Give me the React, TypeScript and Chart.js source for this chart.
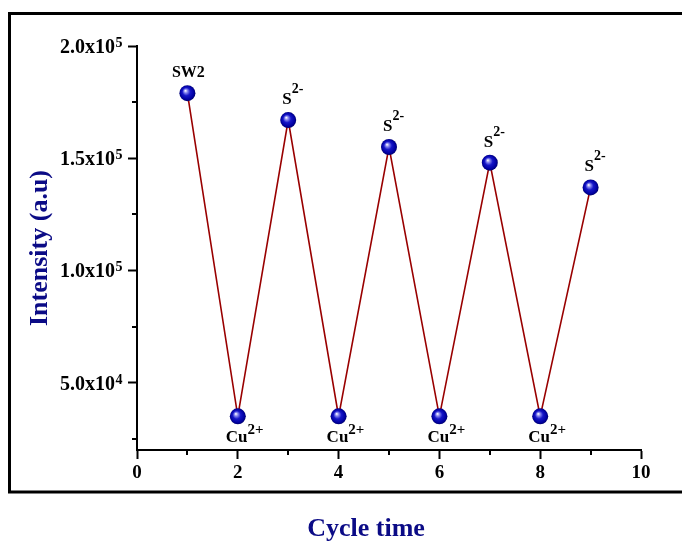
import React, { useEffect, useRef } from "react";
import { Chart, registerables } from "chart.js";

Chart.register(...registerables);

const cycles = [1, 2, 3, 4, 5, 6, 7, 8, 9];
const intensity = [179000, 35000, 167000, 35000, 155000, 35000, 148000, 35000, 137000];
const labelMain = ["SW2", "Cu", "S", "Cu", "S", "Cu", "S", "Cu", "S"];
const labelSup = ["", "2+", "2-", "2+", "2-", "2+", "2-", "2+", "2-"];
const xTickValues = [0, 2, 4, 6, 8, 10];
const xMinorTicks = [1, 3, 5, 7, 9];
const yTickValues = [50000, 100000, 150000, 200000];
const yTickBase = ["5.0x10", "1.0x10", "1.5x10", "2.0x10"];
const yTickExp = ["4", "5", "5", "5"];
const yMinorTicks = [25000, 75000, 125000, 175000];
const xTitle = "Cycle time";
const yTitle = "Intensity (a.u)";

const SERIF = "'Liberation Serif', 'Times New Roman', serif";
const NAVY = "#0b0b86";

const decorPlugin = {
  id: "decor",
  beforeDraw(chart: any) {
    const ctx = chart.ctx;
    ctx.save();
    ctx.fillStyle = "#ffffff";
    ctx.fillRect(0, 0, chart.width, chart.height);
    ctx.restore();
  },
  afterDraw(chart: any) {
    const ctx = chart.ctx;
    const xs = chart.scales.x;
    const ys = chart.scales.y;
    const area = chart.chartArea;
    ctx.save();
    // outer frame
    ctx.strokeStyle = "#000";
    ctx.lineWidth = 3;
    ctx.strokeRect(9.5, 13.5, 690, 478.5);
    // minor ticks
    ctx.lineWidth = 2;
    ctx.beginPath();
    xMinorTicks.forEach((v) => {
      const px = Math.round(xs.getPixelForValue(v));
      ctx.moveTo(px, area.bottom);
      ctx.lineTo(px, area.bottom + 5);
    });
    yMinorTicks.forEach((v) => {
      const py = Math.round(ys.getPixelForValue(v));
      ctx.moveTo(area.left, py);
      ctx.lineTo(area.left - 5, py);
    });
    ctx.stroke();
    // y tick labels with superscript exponents
    ctx.fillStyle = "#000";
    ctx.textBaseline = "alphabetic";
    ctx.textAlign = "left";
    const rightEdge = area.left - 15;
    yTickValues.forEach((v, i) => {
      const py = ys.getPixelForValue(v);
      ctx.font = `bold 14px ${SERIF}`;
      const ew = ctx.measureText(yTickExp[i]).width;
      ctx.font = `bold 20px ${SERIF}`;
      const bw = ctx.measureText(yTickBase[i]).width;
      const x0 = rightEdge - ew - bw;
      ctx.fillText(yTickBase[i], x0, py + 7);
      ctx.font = `bold 14px ${SERIF}`;
      ctx.fillText(yTickExp[i], x0 + bw + 0.5, py + 1);
    });
    // x title
    ctx.fillStyle = NAVY;
    ctx.font = `bold 26px ${SERIF}`;
    ctx.textAlign = "center";
    ctx.textBaseline = "alphabetic";
    ctx.fillText(xTitle, 366, 536);
    ctx.restore();
  },
  afterDatasetsDraw(chart: any) {
    const ctx = chart.ctx;
    const meta = chart.getDatasetMeta(0);
    ctx.save();
    ctx.fillStyle = "#000";
    ctx.textBaseline = "alphabetic";
    ctx.textAlign = "left";
    meta.data.forEach((pt: any, i: number) => {
      const px = pt.x;
      const py = pt.y;
      const main = labelMain[i];
      const sup = labelSup[i];
      if (main === "SW2") {
        ctx.font = `bold 16px ${SERIF}`;
        ctx.textAlign = "center";
        ctx.fillText(main, px + 1, py - 16);
        ctx.textAlign = "left";
      } else if (main === "S") {
        ctx.font = `bold 17px ${SERIF}`;
        const w = ctx.measureText(main).width;
        const x0 = px - 6;
        ctx.fillText(main, x0, py - 16);
        ctx.font = `bold 14px ${SERIF}`;
        ctx.fillText(sup, x0 + w, py - 27);
      } else {
        ctx.font = `bold 17px ${SERIF}`;
        const w = ctx.measureText(main).width;
        const x0 = px - 12;
        ctx.fillText(main, x0, py + 26);
        ctx.font = `bold 15px ${SERIF}`;
        ctx.fillText(sup, x0 + w, py + 18);
      }
    });
    ctx.restore();
  },
};

function sphereFill(c: any) {
  const chart = c.chart;
  const i = c.dataIndex;
  const xs = chart.scales && chart.scales.x;
  const ys = chart.scales && chart.scales.y;
  if (!xs || !ys || i === undefined) return "#0a0aa8";
  const px = xs.getPixelForValue(cycles[i]);
  const py = ys.getPixelForValue(intensity[i]);
  if (!isFinite(px) || !isFinite(py)) return "#0a0aa8";
  const g = chart.ctx.createRadialGradient(px - 2, py - 2.5, 0.3, px, py, 8.5);
  g.addColorStop(0, "#f4f4ff");
  g.addColorStop(0.18, "#8a8af0");
  g.addColorStop(0.45, "#1616c8");
  g.addColorStop(0.8, "#0000a0");
  g.addColorStop(1, "#00005a");
  return g;
}

export default function App() {
  const ref = useRef<HTMLCanvasElement | null>(null);
  useEffect(() => {
    if (!ref.current) return;
    const chart = new Chart(ref.current, {
      type: "line",
      data: {
        datasets: [
          {
            data: cycles.map((x, i) => ({ x, y: intensity[i] })),
            borderColor: "#990000",
            borderWidth: 1.6,
            pointRadius: 8,
            pointBorderWidth: 0,
            pointBackgroundColor: sphereFill as any,
            pointBorderColor: "rgba(0,0,0,0)",
            tension: 0,
          },
        ],
      },
      options: {
        animation: false,
        responsive: false,
        maintainAspectRatio: false,
        events: [],
        layout: { padding: { left: 0, top: 46, right: 41, bottom: 52 } },
        plugins: { legend: { display: false }, tooltip: { enabled: false } },
        scales: {
          x: {
            type: "linear",
            min: 0,
            max: 10,
            afterBuildTicks: (s: any) => {
              s.ticks = xTickValues.map((v) => ({ value: v }));
            },
            afterFit: (s: any) => {
              s.height = 40;
            },
            ticks: {
              color: "#000",
              font: { family: SERIF, size: 19, weight: "bold" },
              padding: 3,
              maxRotation: 0,
              autoSkip: false,
            },
            grid: {
              drawOnChartArea: false,
              drawTicks: true,
              tickLength: 9,
              tickWidth: 2,
              tickColor: "#000",
              color: "#000",
            },
            border: { display: true, color: "#000", width: 2 },
          },
          y: {
            type: "linear",
            min: 20000,
            max: 200000,
            afterBuildTicks: (s: any) => {
              s.ticks = yTickValues.map((v) => ({ value: v }));
            },
            afterFit: (s: any) => {
              s.width = 137;
            },
            ticks: {
              display: false,
              autoSkip: false,
            },
            grid: {
              drawOnChartArea: false,
              drawTicks: true,
              tickLength: 9,
              tickWidth: 2,
              tickColor: "#000",
              color: "#000",
            },
            border: { display: true, color: "#000", width: 2 },
            title: {
              display: true,
              text: yTitle,
              color: NAVY,
              font: { family: SERIF, size: 26, weight: "bold" },
              padding: { top: 25, bottom: 0 },
            },
          },
        },
      },
      plugins: [decorPlugin],
    });
    return () => chart.destroy();
  }, []);
  return (
    <div style={{ position: "absolute", left: 0, top: 0, width: 682, height: 542 }}>
      <canvas ref={ref} width={682} height={542} style={{ width: 682, height: 542, display: "block" }} />
    </div>
  );
}
